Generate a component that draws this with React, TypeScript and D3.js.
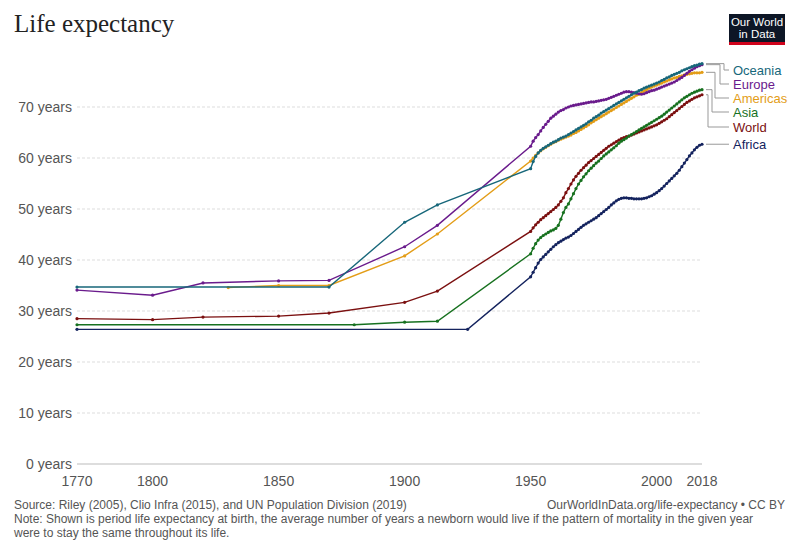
import React from "react";
import * as d3 from "d3";

// ---------- DATA ----------
const annualYears = d3.range(1950, 2019);

const africaEarlyYears = [1770, 1925];
const africaEarly = [26.4, 26.4];
const africaAnnual = [
  36.7, 37.6, 38.5, 39.4, 40.1, 40.6, 41.1, 41.6, 42.1, 42.6,
  43.0, 43.4, 43.7, 44.0, 44.3, 44.5, 44.8, 45.2, 45.6, 46.0,
  46.4, 46.8, 47.1, 47.4, 47.7, 48.0, 48.3, 48.7, 49.1, 49.5,
  49.9, 50.3, 50.8, 51.2, 51.6, 51.9, 52.1, 52.2, 52.2, 52.1,
  52.1, 52.0, 52.0, 52.0, 52.0, 52.1, 52.2, 52.4, 52.6, 52.9,
  53.2, 53.6, 54.0, 54.5, 55.0, 55.5, 56.0, 56.5, 57.0, 57.6,
  58.3, 59.0, 59.7, 60.4, 61.0, 61.6, 62.1, 62.5, 62.7,
];

const asiaEarlyYears = [1770, 1880, 1900, 1913];
const asiaEarly = [27.3, 27.3, 27.8, 28.0];
const asiaAnnual = [
  41.2, 42.3, 43.2, 43.9, 44.4, 44.8, 45.1, 45.4, 45.7, 45.9,
  46.2, 46.8, 48.0, 49.3, 50.3, 51.0, 52.0, 53.0, 54.0, 54.9,
  55.6, 56.3, 56.9, 57.5, 58.0, 58.5, 59.0, 59.4, 59.9, 60.4,
  60.8, 61.2, 61.6, 62.0, 62.4, 62.9, 63.3, 63.6, 63.9, 64.3,
  64.6, 64.9, 65.2, 65.5, 65.8, 66.1, 66.4, 66.7, 67.0, 67.3,
  67.6, 67.9, 68.2, 68.6, 69.0, 69.4, 69.8, 70.2, 70.6, 71.0,
  71.4, 71.8, 72.1, 72.4, 72.7, 72.9, 73.1, 73.3, 73.4,
];

const worldEarlyYears = [1770, 1800, 1820, 1850, 1870, 1900, 1913];
const worldEarly = [28.5, 28.3, 28.8, 29.0, 29.6, 31.7, 33.9];
const worldAnnual = [
  45.6, 46.3, 46.9, 47.4, 47.9, 48.3, 48.7, 49.1, 49.5, 49.9,
  50.3, 50.8, 51.5, 52.2, 53.2, 54.0, 54.9, 55.7, 56.4, 57.0,
  57.6, 58.1, 58.6, 59.1, 59.5, 59.9, 60.3, 60.7, 61.1, 61.5,
  61.9, 62.3, 62.6, 62.9, 63.2, 63.5, 63.8, 64.0, 64.2, 64.3,
  64.5, 64.7, 64.9, 65.1, 65.3, 65.5, 65.7, 65.9, 66.1, 66.3,
  66.5, 66.8, 67.1, 67.4, 67.7, 68.1, 68.5, 68.9, 69.3, 69.7,
  70.1, 70.5, 70.9, 71.2, 71.5, 71.8, 72.0, 72.2, 72.4,
];

const americasEarlyYears = [1830, 1850, 1870, 1900, 1913];
const americasEarly = [34.6, 35.0, 35.0, 40.8, 45.1];
const americasAnnual = [
  59.4, 60.0, 60.5, 61.0, 61.4, 61.8, 62.1, 62.4, 62.7, 63.0,
  63.2, 63.5, 63.7, 63.9, 64.1, 64.3, 64.5, 64.8, 65.0, 65.3,
  65.6, 65.9, 66.2, 66.5, 66.9, 67.2, 67.5, 67.8, 68.1, 68.4,
  68.7, 69.0, 69.3, 69.6, 69.9, 70.2, 70.5, 70.8, 71.1, 71.4,
  71.7, 72.0, 72.3, 72.5, 72.8, 73.1, 73.4, 73.7, 73.9, 74.1,
  74.3, 74.5, 74.7, 74.9, 75.1, 75.3, 75.5, 75.7, 75.8, 76.0,
  76.1, 76.3, 76.4, 76.5, 76.6, 76.7, 76.7, 76.7, 76.8,
];

const europeEarlyYears = [1770, 1800, 1820, 1850, 1870, 1900, 1913];
const europeEarly = [34.1, 33.1, 35.5, 35.9, 36.0, 42.6, 46.8];
const europeAnnual = [
  62.3, 63.3, 64.0, 64.6, 65.3, 66.0, 66.6, 67.2, 67.8, 68.2,
  68.6, 69.0, 69.3, 69.5, 69.8, 70.0, 70.2, 70.3, 70.4, 70.5,
  70.6, 70.7, 70.8, 70.9, 71.0, 71.0, 71.1, 71.2, 71.3, 71.4,
  71.5, 71.7, 71.9, 72.1, 72.3, 72.5, 72.7, 72.9, 73.0, 73.0,
  72.9, 72.8, 72.7, 72.6, 72.5, 72.6, 72.8, 73.0, 73.2, 73.3,
  73.5, 73.7, 73.9, 74.1, 74.3, 74.5, 74.7, 74.9, 75.2, 75.5,
  75.8, 76.2, 76.6, 77.0, 77.3, 77.6, 77.9, 78.1, 78.3,
];

const oceaniaEarlyYears = [1770, 1870, 1900, 1913];
const oceaniaEarly = [34.7, 34.7, 47.4, 50.8];
const oceaniaAnnual = [
  57.9, 59.3, 60.3, 61.0, 61.5, 61.9, 62.2, 62.5, 62.8, 63.1,
  63.3, 63.6, 63.9, 64.1, 64.3, 64.6, 64.9, 65.2, 65.5, 65.8,
  66.1, 66.4, 66.7, 67.1, 67.4, 67.8, 68.1, 68.4, 68.8, 69.1,
  69.4, 69.7, 70.0, 70.3, 70.6, 70.9, 71.2, 71.5, 71.8, 72.1,
  72.4, 72.7, 72.9, 73.2, 73.4, 73.7, 73.9, 74.1, 74.3, 74.5,
  74.7, 74.9, 75.2, 75.4, 75.7, 75.9, 76.2, 76.4, 76.6, 76.8,
  77.1, 77.3, 77.5, 77.7, 77.9, 78.1, 78.2, 78.4, 78.5,
];

const xTicks = [1770, 1800, 1850, 1900, 1950, 2000, 2018];
const yTicks = [0, 10, 20, 30, 40, 50, 60, 70];

const titleText = "Life expectancy";
const sourceText = "Source: Riley (2005), Clio Infra (2015), and UN Population Division (2019)";
const urlText = "OurWorldInData.org/life-expectancy • CC BY";
const noteLine1 =
  "Note: Shown is period life expectancy at birth, the average number of years a newborn would live if the pattern of mortality in the given year";
const noteLine2 = "were to stay the same throughout its life.";

// ---------- SERIES (draw order) ----------
const seriesNames = ["Africa", "World", "Asia", "Americas", "Europe", "Oceania"];
const seriesColors: Record<string, string> = {
  Africa: "#14235e",
  World: "#7b1010",
  Asia: "#17711f",
  Americas: "#e39d17",
  Europe: "#6a1b8c",
  Oceania: "#17677a",
};
const earlyYears: Record<string, number[]> = {
  Africa: africaEarlyYears,
  World: worldEarlyYears,
  Asia: asiaEarlyYears,
  Americas: americasEarlyYears,
  Europe: europeEarlyYears,
  Oceania: oceaniaEarlyYears,
};
const earlyValues: Record<string, number[]> = {
  Africa: africaEarly,
  World: worldEarly,
  Asia: asiaEarly,
  Americas: americasEarly,
  Europe: europeEarly,
  Oceania: oceaniaEarly,
};
const annualValues: Record<string, number[]> = {
  Africa: africaAnnual,
  World: worldAnnual,
  Asia: asiaAnnual,
  Americas: americasAnnual,
  Europe: europeAnnual,
  Oceania: oceaniaAnnual,
};

// legend layout (label centre y and leader bend x)
const legendLayout: Record<string, { ly: number; bend: number }> = {
  Oceania: { ly: 70, bend: 724 },
  Europe: { ly: 84, bend: 720 },
  Americas: { ly: 98, bend: 715 },
  Asia: { ly: 112, bend: 712 },
  World: { ly: 127, bend: 708 },
  Africa: { ly: 144, bend: 718 },
};

export default function App() {
  const x = d3.scaleLinear().domain([1770, 2018]).range([77, 702]);
  const y = d3.scaleLinear().domain([0, 70]).range([464, 107]);
  const line = d3
    .line<[number, number]>()
    .x((d) => x(d[0]))
    .y((d) => y(d[1]));

  const sans = "'Liberation Sans', Arial, sans-serif";

  const data = seriesNames.map((name) => {
    const pts: [number, number][] = [];
    earlyYears[name].forEach((yr, i) => pts.push([yr, earlyValues[name][i]]));
    annualYears.forEach((yr, i) => pts.push([yr, annualValues[name][i]]));
    return { name, pts };
  });

  return (
    <svg
      width={800}
      height={550}
      viewBox="0 0 800 550"
      style={{ position: "absolute", left: 0, top: 0, background: "#fff" }}
    >
      <rect x={0} y={0} width={800} height={550} fill="#fff" />
      <text x={14} y={32} fontFamily="'Liberation Serif', 'Times New Roman', serif" fontSize={25} fill="#222">
        {titleText}
      </text>

      {/* logo */}
      <g>
        <rect x={729} y={14} width={56} height={31} fill="#0d1626" />
        <rect x={729} y={42} width={56} height={3} fill="#d0031c" />
        <text x={757} y={26} textAnchor="middle" fontFamily={sans} fontSize={11.5} fill="#fff">
          Our World
        </text>
        <text x={757} y={38} textAnchor="middle" fontFamily={sans} fontSize={11.5} fill="#fff">
          in Data
        </text>
      </g>

      {/* grid */}
      {yTicks.map((t) =>
        t === 0 ? (
          <line key={t} x1={x(1770)} x2={x(2018)} y1={y(t)} y2={y(t)} stroke="#bbb" strokeWidth={1} />
        ) : (
          <line
            key={t}
            x1={x(1770)}
            x2={x(2018)}
            y1={y(t)}
            y2={y(t)}
            stroke="#ddd"
            strokeWidth={1}
            strokeDasharray="3,2"
          />
        )
      )}
      {yTicks.map((t) => (
        <text
          key={"yl" + t}
          x={72}
          y={y(t) + 5}
          textAnchor="end"
          fontFamily={sans}
          fontSize={14}
          fill="#555"
        >
          {t} years
        </text>
      ))}
      {xTicks.map((t) => (
        <text key={"xl" + t} x={x(t)} y={486} textAnchor="middle" fontFamily={sans} fontSize={14} fill="#555">
          {t}
        </text>
      ))}

      {/* series */}
      {data.map((s) => (
        <g key={s.name}>
          <path d={line(s.pts) || ""} fill="none" stroke={seriesColors[s.name]} strokeWidth={1.4} />
          {s.pts.map((p, i) => (
            <circle key={i} cx={x(p[0])} cy={y(p[1])} r={1.6} fill={seriesColors[s.name]} />
          ))}
        </g>
      ))}

      {/* legend */}
      {data.map((s) => {
        const last = s.pts[s.pts.length - 1];
        const ex = x(last[0]) + 4;
        const ey = y(last[1]);
        const L = legendLayout[s.name];
        const d =
          s.name === "Africa"
            ? `M${ex},${ey}H729`
            : `M${ex},${ey}H${L.bend}V${L.ly}H729`;
        return (
          <g key={"lg" + s.name}>
            <path d={d} fill="none" stroke="#999" strokeWidth={1} />
            <text x={733} y={L.ly + 4.5} fontFamily={sans} fontSize={13} fill={seriesColors[s.name]}>
              {s.name}
            </text>
          </g>
        );
      })}

      {/* footer */}
      <text x={14} y={509} fontFamily={sans} fontSize={12} fill="#555">
        {sourceText}
      </text>
      <text x={785} y={509} textAnchor="end" fontFamily={sans} fontSize={12} fill="#555">
        {urlText}
      </text>
      <text x={14} y={523} fontFamily={sans} fontSize={12} fill="#555">
        {noteLine1}
      </text>
      <text x={14} y={537} fontFamily={sans} fontSize={12} fill="#555">
        {noteLine2}
      </text>
    </svg>
  );
}
